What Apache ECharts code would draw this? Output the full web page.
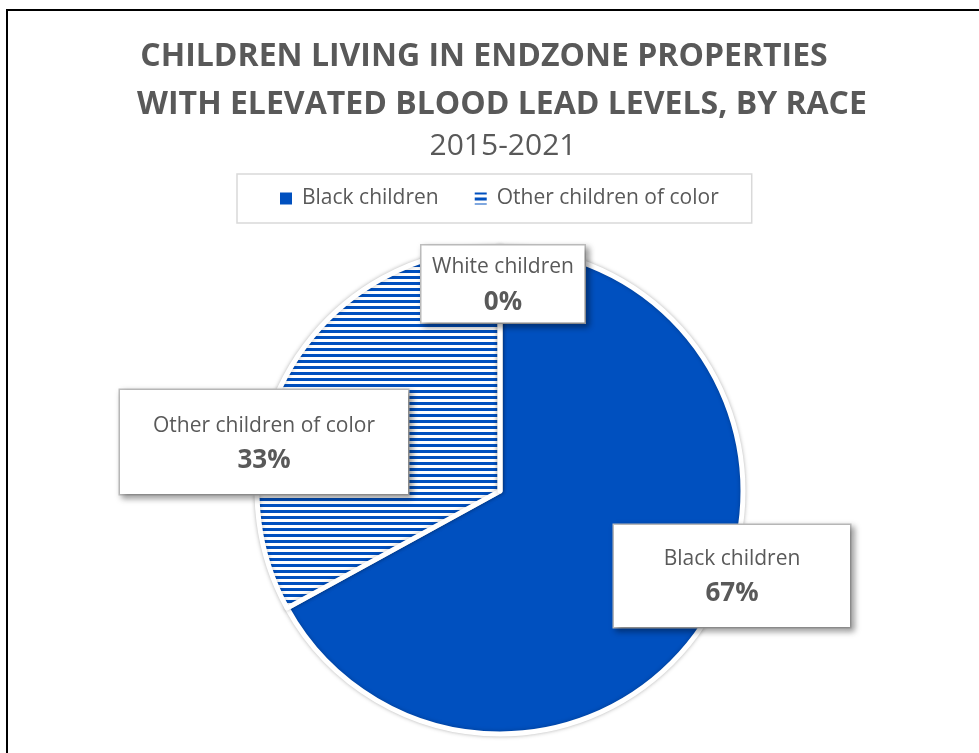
<!DOCTYPE html>
<html>
<head>
<meta charset="utf-8">
<script src="https://cdn.jsdelivr.net/npm/echarts@6/dist/echarts.min.js"></script>
<style>
  html, body { margin: 0; padding: 0; background: #fff; }
  #chart { width: 979px; height: 753px; }
</style>
</head>
<body>
<div id="chart"></div>
<script>
// ---- data ----
var titleLines = ['CHILDREN LIVING IN ENDZONE PROPERTIES', 'WITH ELEVATED BLOOD LEAD LEVELS, BY RACE'];
var subtitleText = '2015-2021';
var categories = ['Black children', 'Other children of color', 'White children'];
var values = [67, 33, 0];
var legendItems = ['Black children', 'Other children of color'];

// ---- styling / layout ----
var BLUE = '#0050BF';
var GREY = '#595959';
var FONT = '"Open Sans", sans-serif';

function hatch() {
  var c = document.createElement('canvas');
  c.width = 8; c.height = 6;
  var ctx = c.getContext('2d');
  ctx.fillStyle = '#ffffff'; ctx.fillRect(0, 0, 8, 6);
  ctx.fillStyle = BLUE; ctx.fillRect(0, 0, 8, 3);
  return c;
}

var labelBoxes = {
  'Black children':          { x: 732, y: 576, w: 236, pad: [18, 0, 14, 0] },
  'Other children of color': { x: 264, y: 442, w: 288, pad: [20, 0, 14, 0] },
  'White children':          { x: 503, y: 284, w: 163, pad: [6, 0, 1, 0] }
};

var fills = { 'Black children': BLUE, 'Other children of color': { image: hatch(), repeat: 'repeat' }, 'White children': '#ffffff' };

var pieData = categories.map(function (name, i) {
  var b = labelBoxes[name];
  return {
    name: name,
    value: values[i],
    itemStyle: { color: fills[name] },
    label: { width: b.w, padding: b.pad }
  };
});

var titleStyle = { fontFamily: FONT, fontWeight: 'bold', fontSize: 32, color: GREY, lineHeight: 40 };

var chart = echarts.init(document.getElementById('chart'), null, { renderer: 'canvas' });
chart.setOption({
  backgroundColor: '#ffffff',
  animation: false,
  title: [{
    text: titleLines[0],
    left: 479, top: 32, textAlign: 'center',
    textStyle: titleStyle
  }, {
    text: titleLines[1],
    left: 497, top: 80, textAlign: 'center',
    textStyle: titleStyle
  }, {
    text: subtitleText,
    left: 498, top: 122, textAlign: 'center',
    textStyle: { fontFamily: FONT, fontWeight: 'normal', fontSize: 30, color: GREY, lineHeight: 38 }
  }],
  legend: {
    data: legendItems,
    left: 237, top: 174,
    padding: [14, 33, 14, 41],
    itemGap: 34,
    itemWidth: 14, itemHeight: 14,
    borderColor: '#d9d9d9', borderWidth: 1.5,
    icon: 'rect',
    textStyle: { fontFamily: FONT, fontSize: 21, color: GREY, padding: [0, 0, 0, 4] }
  },
  graphic: [{
    type: 'rect', silent: true, z: 100,
    shape: { x: 7, y: 10, width: 1000, height: 800 },
    style: { fill: 'none', stroke: '#000', lineWidth: 2 }
  }],
  series: [{
    type: 'pie',
    center: [500, 491],
    radius: [0, 243],
    startAngle: 90,
    clockwise: true,
    avoidLabelOverlap: false,
    stillShowZeroSum: true,
    itemStyle: { borderColor: '#ffffff', borderWidth: 5, shadowBlur: 4, shadowColor: 'rgba(0,0,0,0.25)' },
    labelLine: { show: false },
    label: {
      show: true,
      position: 'outside',
      formatter: function (p) { return '{n|' + p.name + '}\n{v|' + Math.round(p.percent) + '%}'; },
      backgroundColor: '#ffffff',
      borderColor: '#bfbfbf', borderWidth: 1.5,
      shadowColor: 'rgba(0,0,0,0.35)', shadowBlur: 6, shadowOffsetX: 3, shadowOffsetY: 3,
      align: 'center',
      rich: {
        n: { fontFamily: FONT, fontSize: 21, color: GREY, lineHeight: 32, align: 'center' },
        v: { fontFamily: FONT, fontSize: 26, fontWeight: 'bold', color: GREY, lineHeight: 38, align: 'center' }
      }
    },
    labelLayout: function (params) {
      var b = labelBoxes[categories[params.dataIndex]];
      return { x: b.x, y: b.y, align: 'center', verticalAlign: 'middle', moveOverlap: null };
    },
    data: pieData
  }]
});
</script>
</body>
</html>
